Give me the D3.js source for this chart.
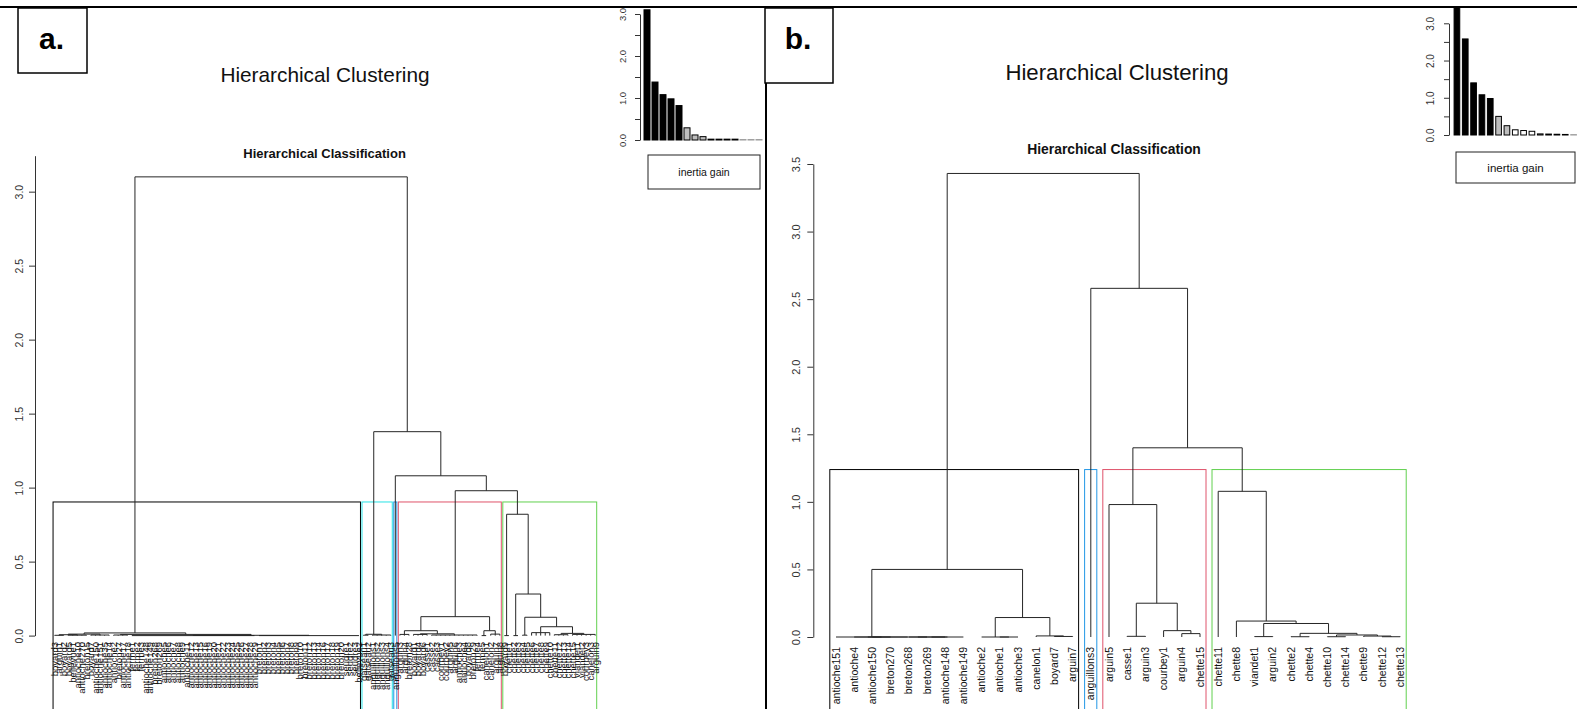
<!DOCTYPE html>
<html>
<head>
<meta charset="utf-8">
<script src="https://cdn.jsdelivr.net/npm/d3@7"></script>
<style>
  body { margin: 0; background: #fff; }
  svg { display: block; font-family: "Liberation Sans", Arial, sans-serif; }
</style>
</head>
<body>
<div id="chart"></div>
<script>
const W = 1577, H = 709;

// ---------- data, panel a ----------
const inertiaA = [3.10, 1.38, 1.08, 0.98, 0.82, 0.29, 0.12, 0.08, 0.02, 0.02, 0.02, 0.02, 0.01, 0.01, 0.01];
const yTicksA = [0, 0.5, 1, 1.5, 2, 2.5, 3];
const cutA = 0.903;
// a tree node is [height, child, child, ...], a leaf is its label
const blackA = [0.018,
  [0.010,
    [0.006, [0.002, "boyard3", "arguin1", "boyard2"], [0.003, "boyard5", "bellevue1", "antioche10", "antioche270", "breton15"]],
    [0.004, "boyard7", "antioche150", "antioche151", "antioche35", "antioche14"]],
  [0.008,
    [0.004, "antioche2", "breton27", "antioche17", "antioche18"],
    [0.002,
      [0, "ferme1", "ferme2", "ferme3", "antioche148", "antioche149", "breton268", "breton269", "antioche5", "antioche6",
        "antioche7", "antioche8", "antioche9", "antioche11", "antioche12", "antioche13", "antioche15", "antioche16",
        "antioche19", "antioche20", "antioche21", "antioche22", "antioche23", "antioche24", "antioche25", "antioche26",
        "antioche27", "antioche28", "antioche29"],
      [0, "breton1", "breton2", "breton3", "breton4", "breton5", "breton6", "breton7", "breton8", "breton9", "breton10",
        "breton11", "breton12", "breton13", "breton14", "breton16", "breton17", "breton18", "breton19", "breton20",
        "seudre1", "seudre2", "seudre3", "bellevue2"]]]];
const cyanA = [0.009, [0.003, "gatseau1", "gatseau2"], [0.004, "anguillons1", "anguillons2", "anguillons3", "anguillons4", "gatseau3"]];
const blueA = "anguillons5";
const redA = [0.128,
  [0.033,
    [0.008, "arguin3", "arguin4", "breton28"],
    [0.012, [0.008, "boyard1", "boyard4", "boyard6", "casse1"],
      [0.004, "casse2", "casse3", "courbey1", "courbey2", "arguin5", "arguin6", "antioche3", "antioche4", "boyard8", "breton29", "ferme4"]]],
  [0.033, [0, "ferme5", "canelon1"], [0.01, "canelon2", "arguin7", "arguin8"]]];
const greenA = [0.82,
  [0, "boyard9", "chette1"],
  [0.281,
    [0, "chette2", "chette3"],
    [0.124,
      [0.003, "chette4", "chette5"],
      [0.06,
        [0.02, "chette6", "chette7", "chette8", "chette9", "chette10"],
        [0.015, [0.006, "chette11", "chette12", "chette13", "chette14"],
          [0.008, "chette15", "viandet1", "viandet2", "courbey3", "canelon3", "arguin9"]]]]]];
const treeA = [3.10, blackA, [1.378, cyanA, [1.08, blueA, [0.979, redA, greenA]]]];
const clustersA = [blackA, cyanA, blueA, redA, greenA];

// ---------- data, panel b ----------
const inertiaB = [3.43, 2.58, 1.40, 1.08, 0.98, 0.50, 0.25, 0.14, 0.12, 0.10, 0.03, 0.025, 0.02, 0.015, 0.01];
const yTicksB = [0, 0.5, 1, 1.5, 2, 2.5, 3, 3.5];
const cutB = 1.239;
const blackB = [0.50,
  [0, "antioche151", [0, [0, "antioche4", [0, "antioche150", "breton270"]], [0, [0, [0, "breton268", "breton269"], "antioche148"], "antioche149"]]],
  [0.144, [0, "antioche2", [0, "antioche1", "antioche3"]], [0.008, "canelon1", [0.004, "boyard7", "arguin7"]]]];
const blueB = "anguillons3";
const redB = [0.98, "arguin5", [0.25, [0.005, "casse1", "arguin3"], [0.047, "courbey1", [0.025, "arguin4", "chette15"]]]];
const greenB = [1.078, "chette11",
  [0.118, "chette8",
    [0.10, [0.003, "viandet1", "arguin2"],
      [0.027, [0.002, "chette2", "chette4"],
        [0.015, [0.002, "chette10", "chette14"], [0.007, "chette9", [0.002, "chette12", "chette13"]]]]]]];
const treeB = [3.43, blackB, [2.58, blueB, [1.40, redB, greenB]]];
const clustersB = [blackB, blueB, redB, greenB];

// R 4 palette
const boxColorsA = ["#000000", "#28E2E5", "#2297E6", "#DF536B", "#61D04F"];
const boxColorsB = ["#000000", "#2297E6", "#DF536B", "#61D04F"];

const svg = d3.select("#chart").append("svg").attr("width", W).attr("height", H);
svg.append("rect").attr("width", W).attr("height", H).attr("fill", "#fff");

const leavesOf = n => typeof n === "string" ? [n] : n.slice(1).flatMap(leavesOf);

// draws the merges bottom-up, a node sits at the middle of its outer children
function drawTree(g, n, x, y) {
  if (typeof n === "string") return {x: x(n), h: 0};
  const kids = n.slice(1).map(c => drawTree(g, c, x, y));
  const h = n[0];
  kids.forEach(k => g.append("line")
    .attr("x1", k.x).attr("x2", k.x).attr("y1", y(k.h)).attr("y2", y(h)));
  g.append("line")
    .attr("x1", kids[0].x).attr("x2", kids[kids.length - 1].x)
    .attr("y1", y(h)).attr("y2", y(h));
  return {x: (kids[0].x + kids[kids.length - 1].x) / 2, h: h};
}

function rotatedAxis(g, y, ticks, fmt, gap, size, fs) {
  g.call(d3.axisLeft(y).tickValues(ticks).tickSize(size).tickSizeOuter(0).tickFormat(fmt));
  g.select(".domain").attr("stroke", "#333");
  g.selectAll(".tick line").attr("stroke", "#333");
  g.selectAll(".tick text")
    .attr("transform", "rotate(-90)")
    .attr("x", 0).attr("y", -gap).attr("dy", 0)
    .attr("text-anchor", "middle")
    .attr("fill", "#333")
    .attr("font-size", fs);
}

function dendrogram(o) {
  const leaves = leavesOf(o.tree);
  const x = d3.scalePoint().domain(leaves).range(o.xRange);
  const y = d3.scaleLinear().domain(o.yDomain).range(o.yRange);
  const step = x.step();

  svg.append("g").attr("transform", `translate(${o.axisX},0)`)
    .call(g => rotatedAxis(g, y, o.ticks, d3.format(".1f"), o.tickGap, 6, o.tickFont));

  // cluster boxes
  svg.append("g").selectAll("rect").data(o.clusters).join("rect")
    .attr("x", d => x(leavesOf(d)[0]) - 0.34 * step)
    .attr("width", d => x(leavesOf(d).at(-1)) - x(leavesOf(d)[0]) + 0.67 * step)
    .attr("y", y(o.cut))
    .attr("height", H + 10 - y(o.cut))
    .attr("fill", "none")
    .attr("stroke", (d, i) => o.colors[i])
    .attr("stroke-width", 1);

  const tg = svg.append("g").attr("stroke", "#262626").attr("stroke-width", 1);
  drawTree(tg, o.tree, x, y);

  svg.append("g").selectAll("text").data(leaves).join("text")
    .attr("transform", d => `translate(${x(d)},${o.labelTop}) rotate(-90)`)
    .attr("dy", "0.35em")
    .attr("text-anchor", "end")
    .attr("font-size", o.labelFont)
    .attr("fill", "#111")
    .text(d => d);
}

function inertiaPlot(o) {
  const x = d3.scaleBand().domain(d3.range(o.values.length)).range(o.xRange)
    .paddingInner(o.padIn).paddingOuter(0.25);
  const y = d3.scaleLinear().domain([0, 3]).range(o.yRange);

  svg.append("g").attr("transform", `translate(${o.axisX},0)`)
    .call(g => rotatedAxis(g, y, [0, 0.5, 1, 1.5, 2, 2.5, 3],
      v => v % 1 === 0 ? d3.format(".1f")(v) : "", o.tickGap, 5, o.tickFont));

  svg.append("g").selectAll("rect").data(o.values).join("rect")
    .attr("x", (d, i) => x(i))
    .attr("width", x.bandwidth())
    .attr("y", d => y(d))
    .attr("height", d => y(0) - y(d))
    .attr("fill", (d, i) => i < 5 ? "#000" : i < o.greyTo ? "#bebebe" : "#fff")
    .attr("stroke", (d, i) => i < o.dashGreyFrom ? "#000" : "#9a9a9a")
    .attr("stroke-width", 1);

  svg.append("rect")
    .attr("x", o.box[0]).attr("y", o.box[1]).attr("width", o.box[2]).attr("height", o.box[3])
    .attr("fill", "#fff").attr("stroke", "#222").attr("stroke-width", 1);
  svg.append("text")
    .attr("x", o.box[0] + o.box[2] / 2).attr("y", o.box[1] + o.box[3] / 2)
    .attr("dy", "0.35em").attr("text-anchor", "middle")
    .attr("font-size", o.boxFont).attr("fill", "#111")
    .text("inertia gain");
}

// ---------- panel a ----------
dendrogram({
  tree: treeA, clusters: clustersA, colors: boxColorsA, cut: cutA,
  xRange: [54.6, 595.2], yDomain: [0, 3.243], yRange: [635.6, 155.7],
  ticks: yTicksA, axisX: 35, tickGap: 12, tickFont: 10.5,
  labelTop: 642, labelFont: 9.5
});
inertiaPlot({
  values: inertiaA, xRange: [642, 764], yRange: [140, 14], padIn: 0.25,
  axisX: 640, tickGap: 14, tickFont: 9.5, greyTo: 8, dashGreyFrom: 12,
  box: [648, 155, 112, 34], boxFont: 10.5
});

// ---------- panel b ----------
dendrogram({
  tree: treeB, clusters: clustersB, colors: boxColorsB, cut: cutB,
  xRange: [836, 1400.2], yDomain: [0, 3.5], yRange: [637, 164],
  ticks: yTicksB, axisX: 813.3, tickGap: 13, tickFont: 11,
  labelTop: 647, labelFont: 10.5
});
inertiaPlot({
  values: inertiaB, xRange: [1452, 1578.5], yRange: [135, 23.3], padIn: 0.32,
  axisX: 1449, tickGap: 15, tickFont: 10, greyTo: 7, dashGreyFrom: 14,
  box: [1456, 152, 119, 31], boxFont: 11.5
});

// ---------- titles, frames ----------
const titles = [
  {t: "Hierarchical Clustering", x: 325, y: 82, s: 20.8, w: "normal"},
  {t: "Hierarchical Classification", x: 324.6, y: 157.5, s: 13, w: "bold"},
  {t: "Hierarchical Clustering", x: 1117, y: 79.5, s: 22.2, w: "normal"},
  {t: "Hierarchical Classification", x: 1114, y: 153.5, s: 13.9, w: "bold"}
];
svg.append("g").selectAll("text").data(titles).join("text")
  .attr("x", d => d.x).attr("y", d => d.y)
  .attr("text-anchor", "middle")
  .attr("font-size", d => d.s).attr("font-weight", d => d.w)
  .attr("fill", "#111")
  .text(d => d.t);

svg.append("line").attr("x1", 0).attr("x2", W).attr("y1", 7).attr("y2", 7)
  .attr("stroke", "#000").attr("stroke-width", 2);
svg.append("line").attr("x1", 766).attr("x2", 766).attr("y1", 7).attr("y2", H)
  .attr("stroke", "#000").attr("stroke-width", 2);

const panelTags = [{t: "a.", x: 18, y: 8, w: 69, h: 65}, {t: "b.", x: 765, y: 8, w: 68, h: 75}];
panelTags.forEach(p => {
  svg.append("rect").attr("x", p.x).attr("y", p.y).attr("width", p.w).attr("height", p.h)
    .attr("fill", "#fff").attr("stroke", "#000").attr("stroke-width", 1.5);
  svg.append("text").attr("x", p.x + p.w / 2 - 1).attr("y", 49)
    .attr("text-anchor", "middle").attr("font-size", 30).attr("font-weight", "bold")
    .text(p.t);
});
</script>
</body>
</html>
